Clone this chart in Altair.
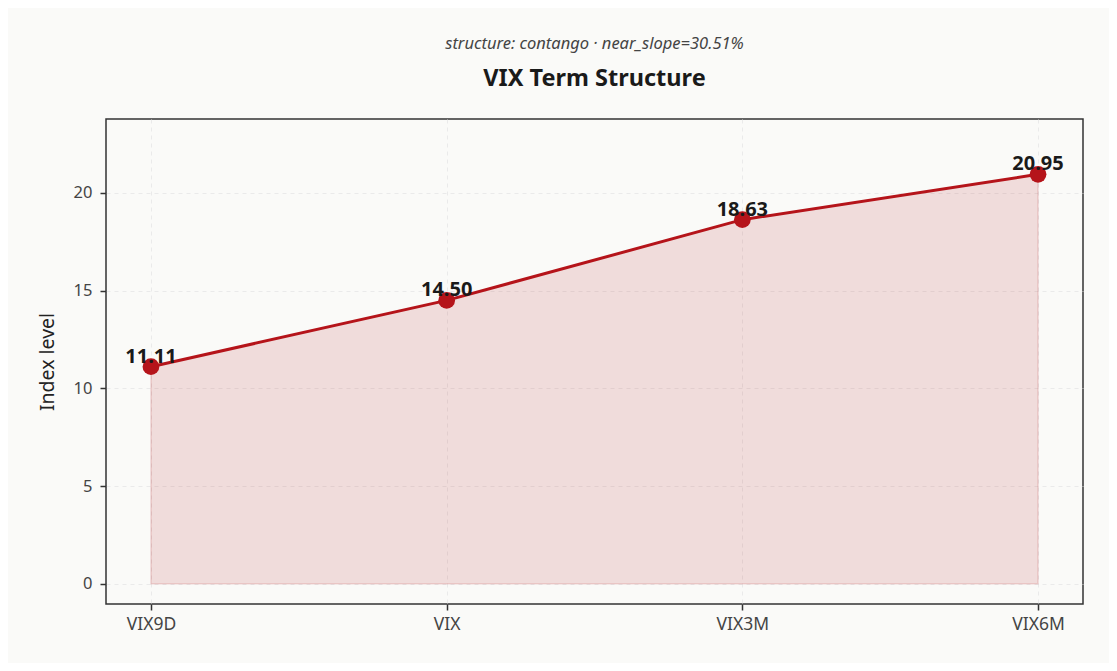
import altair as alt
import pandas as pd

tenors = ["VIX9D", "VIX", "VIX3M", "VIX6M"]
levels = [11.11, 14.50, 18.63, 20.95]
labels = ["11.11", "14.50", "18.63", "20.95"]

df = pd.DataFrame({"tenor": tenors, "level": levels, "label": labels})

RED = "#b5141a"
FONT = "Noto Sans"

x_enc = alt.X("tenor:N", sort=tenors, title=None,
              scale=alt.Scale(type="point", padding=0.152),
              axis=alt.Axis(labelAngle=0, labelFontSize=17.5, labelColor="#444",
                            labelPadding=5, tickSize=6, tickColor="#333",
                            tickWidth=1.5,
                            domain=False, grid=True, gridDash=[4, 4],
                            gridColor="#e6e6e6", gridOpacity=0.8))
y_scale = alt.Scale(domain=[-1.03, 23.78], nice=False, zero=False)
y_enc = alt.Y("level:Q", scale=y_scale, title="Index level",
              axis=alt.Axis(values=[0, 5, 10, 15, 20], labelFontSize=16.5,
                            labelColor="#444", labelPadding=8, tickSize=6,
                            tickColor="#333", tickWidth=1.5, domain=False, grid=True,
                            gridDash=[4, 4], gridColor="#e6e6e6", gridOpacity=0.8,
                            titleFontSize=19.5, titleFontWeight="normal",
                            titleColor="#222", titlePadding=16))

base = alt.Chart(df)

area = base.mark_area(color=RED, fillOpacity=0.13, stroke=RED, strokeOpacity=0.15,
                      strokeWidth=1.5).encode(
    x=x_enc, y=y_enc, y2=alt.datum(0))
line = base.mark_line(color=RED, strokeWidth=3).encode(x=x_enc, y=y_enc)
pts = base.mark_circle(color=RED, size=280, opacity=1).encode(x=x_enc, y=y_enc)
txt = base.mark_text(fontSize=20, fontWeight="bold", color="#1a1a1a", dy=-4,
                     baseline="alphabetic", font=FONT).encode(
    x=x_enc, y=y_enc, text="label:N")

chart = alt.layer(area, line, pts, txt).properties(
    width=977, height=485,
    padding={"left": 98, "top": 111, "right": 26, "bottom": 59},
    autosize=alt.AutoSizeParams(type="none"),
    background="#fafaf8",
    title=alt.TitleParams(
        text="structure: contango · near_slope=30.51%",
        fontStyle="italic", fontWeight="normal", fontSize=16.5, color="#444",
        font=FONT,
        subtitle="VIX Term Structure", subtitleFontWeight="bold",
        subtitleFontSize=23.5, subtitleColor="#1a1a1a", subtitleFont=FONT,
        subtitlePadding=14, anchor="middle", offset=29),
).configure_view(stroke="#333", strokeWidth=1.5, fill="#fafaf8").configure_axis(
    labelFont=FONT, titleFont=FONT)

chart.save("out.html", embed_options={"renderer": "svg", "actions": False})
